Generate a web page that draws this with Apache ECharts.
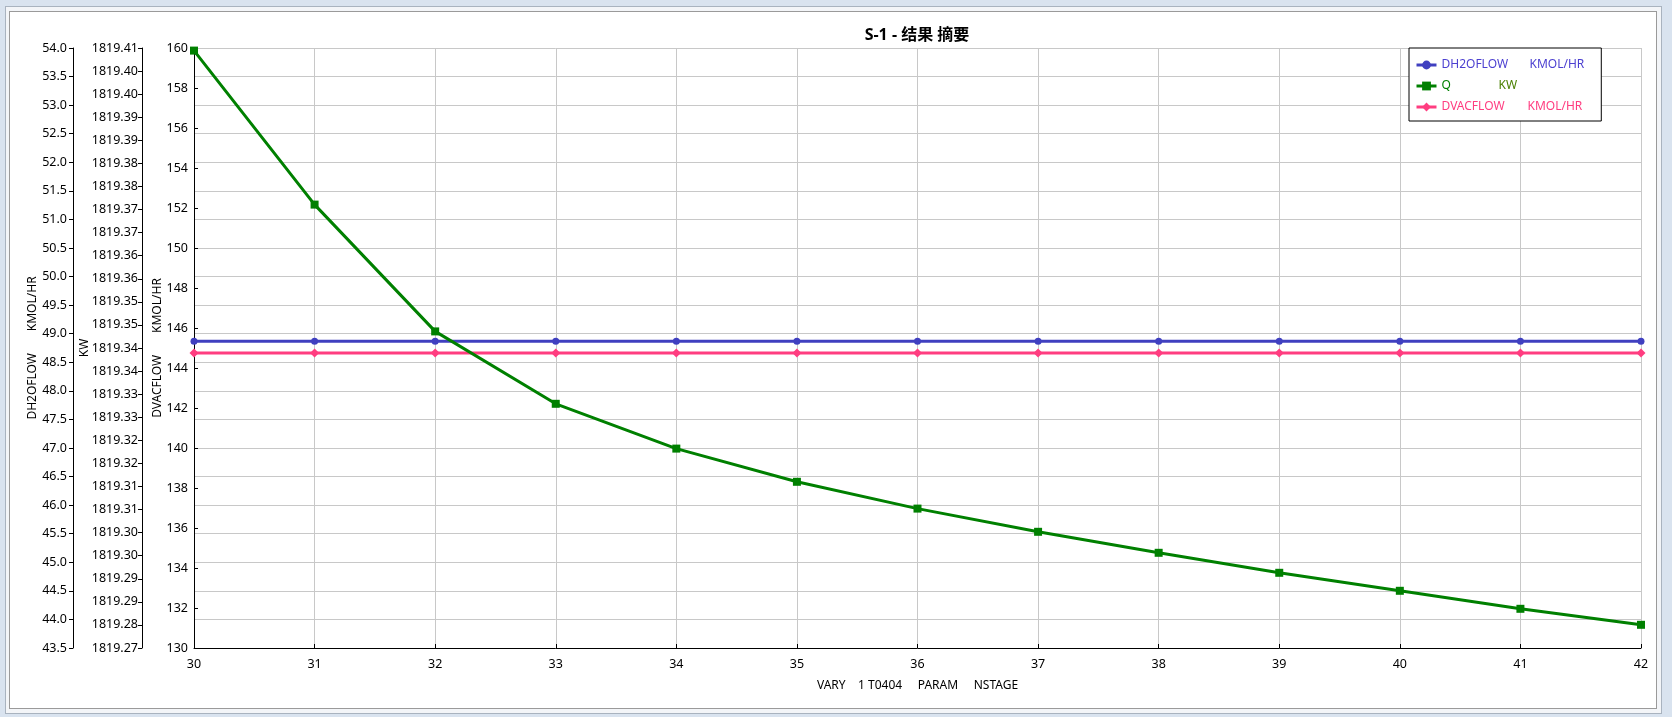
<!DOCTYPE html>
<html>
<head>
<meta charset="utf-8">
<script src="https://cdn.jsdelivr.net/npm/echarts@6/dist/echarts.min.js"></script>
<style>
  html, body { margin: 0; padding: 0; background: #d9e3ef; }
  #f1 { position: absolute; left: 5px; top: 6px; width: 1657px; height: 708px; box-sizing: border-box; border: 1px solid #a9b3bf; background: #f3f5f8; }
  #f2 { position: absolute; left: 9px; top: 11px; width: 1648px; height: 698px; box-sizing: border-box; border: 1px solid #9a9a9a; background: #ffffff; }
  #chart { position: absolute; left: 0; top: 0; width: 1672px; height: 717px; }
</style>
</head>
<body>
<div id="f1"></div>
<div id="f2"></div>
<div id="chart"></div>
<script>
// ---- data ----
const nstage = [30, 31, 32, 33, 34, 35, 36, 37, 38, 39, 40, 41, 42];
const dh2oflow = [48.87, 48.87, 48.87, 48.87, 48.87, 48.87, 48.87, 48.87, 48.87, 48.87, 48.87, 48.87, 48.87];
const q = [159.87, 152.17, 145.83, 142.21, 139.97, 138.31, 136.97, 135.81, 134.76, 133.76, 132.86, 131.96, 131.16];
const dvacflow = [144.75, 144.75, 144.75, 144.75, 144.75, 144.75, 144.75, 144.75, 144.75, 144.75, 144.75, 144.75, 144.75];
// KW axis tick labels, bottom to top
const kwLabels = ['1819.27','1819.28','1819.29','1819.29','1819.30','1819.30','1819.31','1819.31','1819.32','1819.32','1819.33','1819.33','1819.34','1819.34','1819.35','1819.35','1819.36','1819.36','1819.37','1819.37','1819.38','1819.38','1819.39','1819.39','1819.40','1819.40','1819.41'];

const FONT = '"Noto Sans", "Noto Sans CJK SC", sans-serif';
const C_BLUE = '#4040c0', C_GREEN = '#008000', C_PINK = '#ff3d80';
const LFS = 12.5;

const chart = echarts.init(document.getElementById('chart'), null, { renderer: 'canvas' });

function pairs(ys) { return nstage.map((x, i) => [x, ys[i]]); }

const axisCommon = {
  type: 'value',
  position: 'left',
  nameLocation: 'middle',
  nameRotate: 90,
  nameMoveOverlap: false,
  nameTextStyle: { color: '#000', fontSize: 12, fontFamily: FONT },
  axisLine: { show: true, lineStyle: { color: '#000', width: 1 } },
  axisTick: { show: true, length: 4, lineStyle: { color: '#000' } },
  axisLabel: { color: '#000', fontSize: LFS, fontFamily: FONT, margin: 6 },
  splitLine: { show: false }
};

const option = {
  animation: false,
  textStyle: { fontFamily: FONT },
  title: {
    text: 'S-1 - 结果 摘要',
    left: 917, top: 27, textAlign: 'center', padding: 0,
    textStyle: { fontSize: 16, fontWeight: 'bold', color: '#000', fontFamily: FONT }
  },
  legend: {
    orient: 'vertical',
    left: 1409, top: 48,
    padding: [11, 17, 8, 6],
    itemWidth: 20, itemHeight: 11, itemGap: 9, itemTextGap: 7,
    lineStyle: { width: 3 },
    borderColor: '#000', borderWidth: 1, backgroundColor: '#fff',
    data: ['DH2OFLOW', 'Q', 'DVACFLOW'],
    formatter: function (name) {
      if (name === 'DH2OFLOW') return '{a|DH2OFLOW}{au|KMOL/HR}';
      if (name === 'Q') return '{b|Q}{bu|KW}';
      return '{c|DVACFLOW}{cu|KMOL/HR}';
    },
    textStyle: {
      fontSize: 12, fontFamily: FONT,
      rich: {
        a: { width: 88, color: '#4b3fd0', fontSize: 12, fontFamily: FONT },
        au: { color: '#4b3fd0', fontSize: 12, fontFamily: FONT },
        b: { width: 57, color: '#008000', fontSize: 12, fontFamily: FONT },
        bu: { color: '#4a8000', fontSize: 12, fontFamily: FONT },
        c: { width: 86, color: '#ff3d80', fontSize: 12, fontFamily: FONT },
        cu: { color: '#ff3d80', fontSize: 12, fontFamily: FONT }
      }
    }
  },
  grid: { left: 194, right: 31, top: 48, bottom: 69, containLabel: false },
  xAxis: {
    type: 'value', min: 30, max: 42, interval: 1,
    name: 'VARY    1 T0404     PARAM     NSTAGE',
    nameLocation: 'middle', nameGap: 32, nameMoveOverlap: false,
    nameTextStyle: { color: '#000', fontSize: 12, fontFamily: FONT },
    axisLine: { show: true, onZero: false, lineStyle: { color: '#000', width: 1 } },
    axisTick: { show: true, inside: true, length: 4, lineStyle: { color: '#000' } },
    axisLabel: { color: '#000', fontSize: LFS, fontFamily: FONT, margin: 10 },
    splitLine: { show: true, lineStyle: { color: '#c8c8c8', width: 1 } }
  },
  yAxis: [
    Object.assign({}, axisCommon, {
      offset: 121, min: 43.5, max: 54, interval: 0.5,
      name: 'DH2OFLOW       KMOL/HR', nameGap: 34,
      axisTick: { show: true, inside: false, length: 4, lineStyle: { color: '#000' } },
      axisLabel: Object.assign({}, axisCommon.axisLabel, { formatter: v => v.toFixed(1) }),
      splitLine: { show: true, lineStyle: { color: '#c8c8c8', width: 1 } }
    }),
    Object.assign({}, axisCommon, {
      offset: 52, min: 0, max: 26, interval: 1,
      name: 'KW', nameGap: 51,
      axisTick: { show: true, inside: false, length: 4, lineStyle: { color: '#000' } },
      axisLabel: Object.assign({}, axisCommon.axisLabel, { margin: 4, formatter: v => kwLabels[Math.round(v)] })
    }),
    Object.assign({}, axisCommon, {
      offset: 0, min: 130, max: 160, interval: 2,
      name: 'DVACFLOW       KMOL/HR', nameGap: 30,
      axisTick: { show: true, inside: true, length: 4, lineStyle: { color: '#000' } }
    })
  ],
  series: [
    {
      name: 'DH2OFLOW', type: 'line', yAxisIndex: 0, data: pairs(dh2oflow),
      symbol: 'circle', symbolSize: 7, color: C_BLUE,
      lineStyle: { width: 3, color: C_BLUE }, itemStyle: { color: C_BLUE }, z: 2
    },
    {
      name: 'Q', type: 'line', yAxisIndex: 2, data: pairs(q),
      symbol: 'rect', symbolSize: 8, color: C_GREEN,
      lineStyle: { width: 3, color: C_GREEN }, itemStyle: { color: C_GREEN }, z: 4
    },
    {
      name: 'DVACFLOW', type: 'line', yAxisIndex: 2, data: pairs(dvacflow),
      symbol: 'diamond', symbolSize: 9, color: C_PINK,
      lineStyle: { width: 3, color: C_PINK }, itemStyle: { color: C_PINK }, z: 3
    }
  ]
};
chart.setOption(option);
</script>
</body>
</html>
